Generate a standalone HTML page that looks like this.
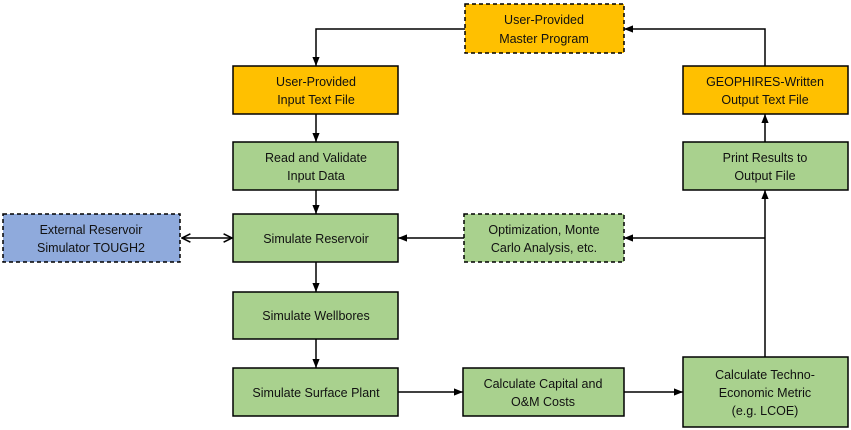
<!DOCTYPE html>
<html><head><meta charset="utf-8"><style>
html,body{margin:0;padding:0;background:#fff;width:851px;height:430px;overflow:hidden}
svg text{font-family:"Liberation Sans",sans-serif;font-size:12.5px;fill:#111;text-anchor:middle}
</style></head><body>
<svg width="851" height="430" viewBox="0 0 851 430" xmlns="http://www.w3.org/2000/svg">
<defs>
<marker id="a" viewBox="0 0 10 10" refX="10" refY="5" markerWidth="6" markerHeight="6" orient="auto-start-reverse"><path d="M0,1 L10,5 L0,9 z" fill="#000"/></marker>
<marker id="o" viewBox="0 0 10 10" refX="9" refY="5" markerWidth="7" markerHeight="7" orient="auto-start-reverse"><path d="M1,1 L9,5 L1,9" fill="none" stroke="#000" stroke-width="1.5"/></marker>
</defs>
<g stroke="#000" stroke-width="1.5" fill="none">
<path d="M465,29 H316 V66" marker-end="url(#a)"/>
<path d="M316,114 V142" marker-end="url(#a)"/>
<path d="M316,190 V214" marker-end="url(#a)"/>
<path d="M316,262 V292" marker-end="url(#a)"/>
<path d="M316,339 V368" marker-end="url(#a)"/>
<path d="M398,392 H463" marker-end="url(#a)"/>
<path d="M624,392 H683" marker-end="url(#a)"/>
<path d="M765,357 V190" marker-end="url(#a)"/>
<path d="M765,238 H624" marker-end="url(#a)"/>
<path d="M464,238 H398" marker-end="url(#a)"/>
<path d="M182,238 H232" marker-start="url(#o)" marker-end="url(#o)"/>
<path d="M765,142 V114" marker-end="url(#a)"/>
<path d="M765,66 V29 H624" marker-end="url(#a)"/>
</g>
<g stroke="#000" stroke-width="1.5">
<rect x="465" y="4" width="159" height="49" fill="#ffc000" stroke-dasharray="4,3"/>
<rect x="233" y="66" width="165" height="48" fill="#ffc000"/>
<rect x="233" y="142" width="165" height="48" fill="#a9d18e"/>
<rect x="233" y="214" width="165" height="48" fill="#a9d18e"/>
<rect x="233" y="292" width="165" height="47" fill="#a9d18e"/>
<rect x="233" y="368" width="165" height="48" fill="#a9d18e"/>
<rect x="3" y="214" width="177" height="48" fill="#8faadc" stroke-dasharray="4,3"/>
<rect x="464" y="214" width="160" height="48" fill="#a9d18e" stroke-dasharray="4,3"/>
<rect x="463" y="368" width="161" height="48" fill="#a9d18e"/>
<rect x="683" y="357" width="165" height="70" fill="#a9d18e"/>
<rect x="683" y="66" width="165" height="48" fill="#ffc000"/>
<rect x="683" y="142" width="165" height="48" fill="#a9d18e"/>
</g>
<text x="544" y="24">User-Provided</text><text x="544" y="43">Master Program</text>
<text x="316" y="86">User-Provided</text><text x="316" y="104">Input Text File</text>
<text x="316" y="162">Read and Validate</text><text x="316" y="180">Input Data</text>
<text x="316" y="243">Simulate Reservoir</text>
<text x="316" y="320">Simulate Wellbores</text>
<text x="316" y="397">Simulate Surface Plant</text>
<text x="91" y="234">External Reservoir</text><text x="91" y="252">Simulator TOUGH2</text>
<text x="544" y="234">Optimization, Monte</text><text x="544" y="252">Carlo Analysis, etc.</text>
<text x="543" y="388">Calculate Capital and</text><text x="543" y="406">O&amp;M Costs</text>
<text x="765" y="379">Calculate Techno-</text><text x="765" y="397">Economic Metric</text><text x="765" y="415">(e.g. LCOE)</text>
<text x="765" y="86">GEOPHIRES-Written</text><text x="765" y="104">Output Text File</text>
<text x="765" y="162">Print Results to</text><text x="765" y="180">Output File</text>
</svg>
</body></html>
